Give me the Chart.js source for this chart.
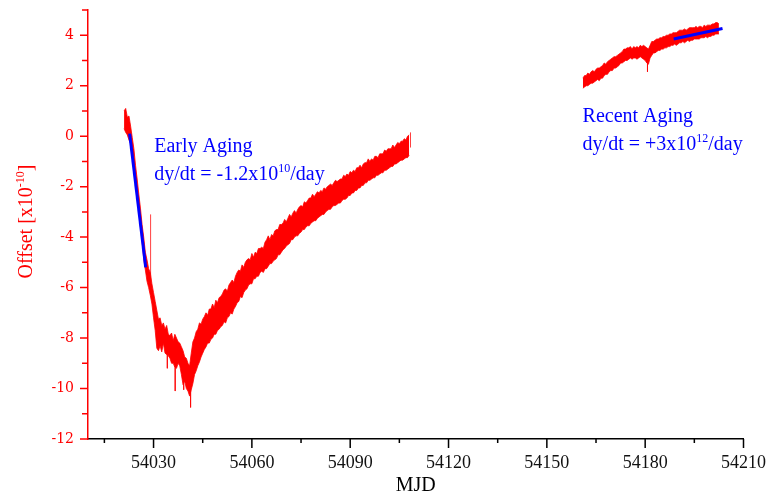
<!DOCTYPE html>
<html><head><meta charset="utf-8">
<script src="https://cdn.jsdelivr.net/npm/chart.js@4.4.0/dist/chart.umd.min.js"></script>
<style>html,body{margin:0;padding:0;background:#fff;}canvas{display:block;}</style>
</head><body>
<canvas id="c" width="770" height="496"></canvas>
<script>
// ---- data (upper / lower edge of the noisy trace) ----
const mjdA = [54021,54021.5,54022,54022.5,54023,54023.5,54024,54024.5,54025,54025.5,
  54026,54026.5,54027,54027.5,54028,54028.5,54029,54029.5,54030,54030.5,
  54031,54031.5,54032,54032.5,54033,54033.5,54034,54034.5,54035,54035.5,
  54036,54036.5,54037,54037.5,54038,54038.5,54039,54039.5,54040,54040.5,
  54041,54041.5,54042,54042.5,54043,54043.5,54044,54044.5,54045,54045.5,
  54046,54046.5,54047,54047.5,54048,54048.5,54049,54049.5,54050,54050.5,
  54051,54051.5,54052,54052.5,54053,54053.5,54054,54054.5,54055,54055.5,
  54056,54056.5,54057,54057.5,54058,54058.5,54059,54059.5,54060,54060.5,
  54061,54061.5,54062,54062.5,54063,54063.5,54064,54064.5,54065,54065.5,
  54066,54066.5,54067,54067.5,54068,54068.5,54069,54069.5,54070,54070.5,
  54071,54071.5,54072,54072.5,54073,54073.5,54074,54074.5,54075,54075.5,
  54076,54076.5,54077,54077.5,54078,54078.5,54079,54079.5,54080,54080.5,
  54081,54081.5,54082,54082.5,54083,54083.5,54084,54084.5,54085,54085.5,
  54086,54086.5,54087,54087.5,54088,54088.5,54089,54089.5,54090,54090.5,
  54091,54091.5,54092,54092.5,54093,54093.5,54094,54094.5,54095,54095.5,
  54096,54096.5,54097,54097.5,54098,54098.5,54099,54099.5,54100,54100.5,
  54101,54101.5,54102,54102.5,54103,54103.5,54104,54104.5,54105,54105.5,
  54106,54106.5,54107,54107.5,54108];
const hiA = [1.0,1.1,0.75,0.8,0.4,-0.05,-0.5,-1.15,-1.7,-2.3,
  -2.85,-3.5,-4.0,-4.6,-4.9,-5.25,-5.4,-5.85,-6.2,-6.55,
  -6.9,-7.25,-7.2,-7.5,-7.4,-7.65,-7.5,-7.85,-7.9,-7.8,
  -8.1,-7.85,-8.0,-8.15,-8.2,-8.35,-8.5,-8.75,-8.8,-9.0,
  -9.1,-8.6,-8.15,-8.0,-7.75,-7.65,-7.4,-7.45,-7.25,-7.15,
  -7.0,-7.1,-6.85,-6.85,-6.65,-6.8,-6.5,-6.6,-6.4,-6.35,
  -6.25,-6.1,-6.05,-6.15,-5.9,-5.8,-5.7,-5.8,-5.55,-5.4,
  -5.3,-5.35,-5.1,-5.2,-5.0,-4.9,-4.85,-4.9,-4.65,-4.8,
  -4.6,-4.65,-4.45,-4.45,-4.4,-4.45,-4.2,-4.1,-3.95,-4.1,
  -3.9,-3.95,-3.75,-3.7,-3.7,-3.5,-3.5,-3.45,-3.3,-3.4,
  -3.25,-3.1,-3.2,-3.05,-2.95,-3.05,-2.9,-2.8,-2.75,-2.8,
  -2.6,-2.65,-2.55,-2.45,-2.45,-2.3,-2.4,-2.3,-2.2,-2.25,
  -2.15,-2.2,-2.05,-2.1,-2.0,-1.95,-1.9,-1.95,-1.85,-1.75,
  -1.8,-1.75,-1.7,-1.7,-1.55,-1.6,-1.5,-1.55,-1.4,-1.45,
  -1.35,-1.4,-1.25,-1.25,-1.15,-1.25,-1.1,-1.05,-1.05,-0.9,
  -1.0,-0.9,-0.95,-0.8,-0.8,-0.85,-0.7,-0.7,-0.7,-0.55,
  -0.6,-0.5,-0.5,-0.5,-0.35,-0.45,-0.35,-0.25,-0.3,-0.2,
  -0.2,-0.1,-0.15,0.0,0.05];
const loA = [0.3,0.15,0.05,-0.15,-0.3,-0.8,-1.3,-1.75,-2.45,-2.9,
  -3.6,-4.15,-4.85,-5.3,-5.75,-6.0,-6.3,-6.65,-7.2,-7.7,
  -8.4,-8.5,-8.3,-8.55,-8.2,-8.6,-8.65,-8.7,-8.8,-9.0,
  -9.0,-9.15,-9.2,-9.0,-9.1,-9.45,-9.85,-9.7,-10.0,-10.1,
  -10.3,-10.05,-9.8,-9.45,-9.3,-9.1,-8.95,-8.75,-8.6,-8.45,
  -8.35,-8.2,-8.2,-8.05,-8.0,-7.85,-7.85,-7.7,-7.65,-7.55,
  -7.5,-7.35,-7.4,-7.2,-7.15,-7.0,-7.05,-6.85,-6.75,-6.6,
  -6.55,-6.35,-6.4,-6.2,-6.1,-6.05,-5.9,-5.85,-5.85,-5.65,
  -5.65,-5.55,-5.55,-5.4,-5.35,-5.4,-5.25,-5.25,-5.15,-5.05,
  -5.05,-4.95,-4.9,-4.85,-4.7,-4.7,-4.6,-4.5,-4.45,-4.35,
  -4.3,-4.25,-4.1,-4.1,-4.0,-3.95,-3.95,-3.85,-3.8,-3.7,
  -3.7,-3.6,-3.55,-3.55,-3.45,-3.4,-3.35,-3.35,-3.25,-3.2,
  -3.15,-3.1,-3.1,-3.0,-2.95,-2.9,-2.9,-2.8,-2.75,-2.75,
  -2.7,-2.65,-2.65,-2.55,-2.5,-2.5,-2.45,-2.35,-2.35,-2.25,
  -2.25,-2.15,-2.15,-2.05,-2.05,-1.95,-1.95,-1.85,-1.85,-1.75,
  -1.75,-1.7,-1.65,-1.65,-1.55,-1.55,-1.5,-1.45,-1.45,-1.35,
  -1.35,-1.3,-1.25,-1.2,-1.2,-1.1,-1.1,-1.05,-1.0,-0.95,
  -0.95,-0.9,-0.85,-0.85,-0.75];
const mjdB = [54161,54161.5,54162,54162.5,54163,54163.5,54164,54164.5,54165,54165.5,
  54166,54166.5,54167,54167.5,54168,54168.5,54169,54169.5,54170,54170.5,
  54171,54171.5,54172,54172.5,54173,54173.5,54174,54174.5,54175,54175.5,
  54176,54176.5,54177,54177.5,54178,54178.5,54179,54179.5,54180,54180.5,
  54181,54181.5,54182,54182.5,54183,54183.5,54184,54184.5,54185,54185.5,
  54186,54186.5,54187,54187.5,54188,54188.5,54189,54189.5,54190,54190.5,
  54191,54191.5,54192,54192.5,54193,54193.5,54194,54194.5,54195,54195.5,
  54196,54196.5,54197,54197.5,54198,54198.5,54199,54199.5,54200,54200.5,
  54201,54201.5,54202,54202.5];
const hiB = [2.3,2.4,2.4,2.5,2.45,2.55,2.6,2.55,2.65,2.7,
  2.7,2.75,2.8,2.9,2.85,2.95,3.0,3.05,3.1,3.15,
  3.15,3.2,3.25,3.3,3.35,3.45,3.45,3.5,3.5,3.55,
  3.45,3.55,3.5,3.55,3.5,3.6,3.55,3.6,3.55,3.5,
  3.45,3.6,3.75,3.75,3.8,3.85,3.85,3.9,3.9,3.95,
  3.95,4.0,4.0,4.05,4.05,4.1,4.1,4.1,4.15,4.2,
  4.2,4.2,4.25,4.2,4.25,4.3,4.3,4.3,4.3,4.35,
  4.3,4.35,4.35,4.3,4.4,4.35,4.4,4.4,4.4,4.45,
  4.45,4.5,4.5,4.45];
const loB = [1.9,1.95,2.0,2.0,2.05,2.1,2.1,2.15,2.2,2.25,
  2.2,2.3,2.3,2.4,2.45,2.45,2.55,2.6,2.6,2.7,
  2.7,2.75,2.8,2.9,2.9,2.95,3.0,3.0,3.05,3.1,
  3.05,3.1,3.1,3.05,3.1,3.15,3.1,3.05,3.0,2.9,
  2.85,3.1,3.2,3.3,3.3,3.35,3.4,3.4,3.45,3.45,
  3.5,3.5,3.55,3.55,3.6,3.6,3.65,3.6,3.65,3.7,
  3.7,3.75,3.7,3.75,3.8,3.75,3.8,3.8,3.85,3.85,
  3.85,3.85,3.9,3.9,3.9,3.95,3.9,3.95,3.95,4.0,
  4.0,4.05,4.05,4.05];
const spikeMjd  = [54029.1, 54034.2, 54036.6, 54039.2, 54041.3, 54108.4, 54180.7];
const spikeFrom = [-5.7, -8.5, -9.0, -9.5, -9.6, -0.45, 3.0];
const spikeTo   = [-3.1, -9.2, -10.1, -10.05, -10.75, 0.15, 2.55];
const earlyFitMjd = [54022.7, 54027.6];
const earlyFitVal = [0.1, -5.2];
const recentFitMjd = [54188.7, 54203.6];
const recentFitVal = [3.85, 4.27];
const xMajorTicks = [54030, 54060, 54090, 54120, 54150, 54180, 54210];
const xMinorTicks = [54015, 54045, 54075, 54105, 54135, 54165, 54195];
const yMajorTicks = [-12, -10, -8, -6, -4, -2, 0, 2, 4];
const yMinorTicks = [-11, -9, -7, -5, -3, -1, 1, 3, 5];

const RED = '#ff0000', BLUE = '#0000ff';
const SERIF = '"Liberation Serif", "Times New Roman", serif';

const pts = (xs, ys) => xs.map((x, i) => ({x, y: ys[i]}));
const spikePts = [];
spikeMjd.forEach((m, i) => {
  spikePts.push({x: m, y: spikeFrom[i]}, {x: m, y: spikeTo[i]}, {x: m, y: null});
});

const bandStyle = {borderColor: 'rgba(255,0,0,0.8)', backgroundColor: RED, borderWidth: 1, pointRadius: 0, tension: 0, order: 2};

function drawRich(ctx, x, y, parts, size, color) {
  let cx = x;
  parts.forEach(p => {
    const fs = p.sup ? Math.round(size * 0.62) : size;
    ctx.font = fs + 'px ' + SERIF;
    ctx.fillStyle = color;
    ctx.fillText(p.t, cx, p.sup ? y - size * 0.42 : y);
    cx += ctx.measureText(p.t).width;
  });
  return cx - x;
}
function richWidth(ctx, parts, size) {
  let w = 0;
  parts.forEach(p => {
    ctx.font = (p.sup ? Math.round(size * 0.62) : size) + 'px ' + SERIF;
    w += ctx.measureText(p.t).width;
  });
  return w;
}

const decorPlugin = {
  id: 'decor',
  afterDraw(chart) {
    const {ctx, chartArea: ca, scales: {x, y}} = chart;
    ctx.save();
    ctx.lineWidth = 1.5;
    ctx.strokeStyle = RED;
    ctx.beginPath();
    yMajorTicks.forEach(v => { const py = y.getPixelForValue(v); ctx.moveTo(ca.left - 8, py); ctx.lineTo(ca.left, py); });
    yMinorTicks.forEach(v => { const py = y.getPixelForValue(v); ctx.moveTo(ca.left - 6, py); ctx.lineTo(ca.left, py); });
    ctx.stroke();
    ctx.strokeStyle = '#000';
    ctx.beginPath();
    xMajorTicks.forEach(v => { const px = x.getPixelForValue(v); ctx.moveTo(px, ca.bottom); ctx.lineTo(px, ca.bottom + 9); });
    xMinorTicks.forEach(v => { const px = x.getPixelForValue(v); ctx.moveTo(px, ca.bottom); ctx.lineTo(px, ca.bottom + 4); });
    ctx.stroke();

    ctx.textBaseline = 'alphabetic';
    ctx.textAlign = 'left';
    drawRich(ctx, x.getPixelForValue(54030.2), y.getPixelForValue(-0.62), [{t: 'Early Aging'}], 20, BLUE);
    drawRich(ctx, x.getPixelForValue(54030.2), y.getPixelForValue(-1.74),
      [{t: 'dy/dt = -1.2x10'}, {t: '10', sup: true}, {t: '/day'}], 20, BLUE);
    drawRich(ctx, x.getPixelForValue(54160.9), y.getPixelForValue(0.56), [{t: 'Recent Aging'}], 20, BLUE);
    drawRich(ctx, x.getPixelForValue(54160.9), y.getPixelForValue(-0.55),
      [{t: 'dy/dt = +3x10'}, {t: '12', sup: true}, {t: '/day'}], 20, BLUE);

    ctx.font = '20px ' + SERIF;
    ctx.fillStyle = '#000';
    ctx.textAlign = 'center';
    ctx.fillText('MJD', (ca.left + ca.right) / 2, 491);

    const yParts = [{t: 'Offset [x10'}, {t: '-10', sup: true}, {t: ']'}];
    ctx.textAlign = 'left';
    const w = richWidth(ctx, yParts, 20);
    ctx.translate(32, (ca.top + ca.bottom) / 2 - 3);
    ctx.rotate(-Math.PI / 2);
    drawRich(ctx, -w / 2, 0, yParts, 20, RED);
    ctx.restore();
  }
};

new Chart(document.getElementById('c'), {
  type: 'line',
  data: {
    datasets: [
      Object.assign({label: 'hiA', data: pts(mjdA, hiA), fill: '+1'}, bandStyle),
      Object.assign({label: 'loA', data: pts(mjdA, loA), fill: false}, bandStyle),
      Object.assign({label: 'hiB', data: pts(mjdB, hiB), fill: '+1'}, bandStyle),
      Object.assign({label: 'loB', data: pts(mjdB, loB), fill: false}, bandStyle),
      {label: 'spikes', data: spikePts, borderColor: 'rgba(255,0,0,0.75)', borderWidth: 1, pointRadius: 0, spanGaps: false, fill: false, order: 2},
      {label: 'early fit', data: pts(earlyFitMjd, earlyFitVal), borderColor: BLUE, borderWidth: 3, pointRadius: 0, fill: false, order: 0},
      {label: 'recent fit', data: pts(recentFitMjd, recentFitVal), borderColor: BLUE, borderWidth: 3, pointRadius: 0, fill: false, order: 0}
    ]
  },
  options: {
    responsive: false,
    animation: false,
    events: [],
    layout: {padding: {left: 0, right: 26, top: 10, bottom: 0}},
    plugins: {legend: {display: false}, tooltip: {enabled: false}},
    scales: {
      x: {
        type: 'linear', position: 'bottom', min: 54010, max: 54210,
        afterBuildTicks: s => { s.ticks = xMajorTicks.map(v => ({value: v})); },
        afterFit: s => { s.height = 57; s.paddingLeft = 0; },
        grid: {display: true, drawOnChartArea: false, drawTicks: true, tickLength: 9, color: 'rgba(0,0,0,0)'},
        border: {display: true, color: '#000', width: 1.5},
        ticks: {color: '#111', padding: 4, maxRotation: 0, autoSkip: false,
          font: {family: SERIF, size: 18}, callback: v => String(v)}
      },
      y: {
        type: 'linear', position: 'left', min: -12, max: 5,
        afterBuildTicks: s => { s.ticks = yMajorTicks.map(v => ({value: v})); },
        afterFit: s => { s.width = 88; s.paddingTop = 0; s.paddingBottom = 0; },
        grid: {display: true, drawOnChartArea: false, drawTicks: true, tickLength: 8, color: 'rgba(0,0,0,0)'},
        border: {display: true, color: RED, width: 1.5},
        ticks: {color: RED, padding: 6, autoSkip: false,
          font: {family: '"DejaVu Serif", serif', size: 14}, callback: v => String(v)}
      }
    }
  },
  plugins: [decorPlugin]
});
</script>
</body></html>
